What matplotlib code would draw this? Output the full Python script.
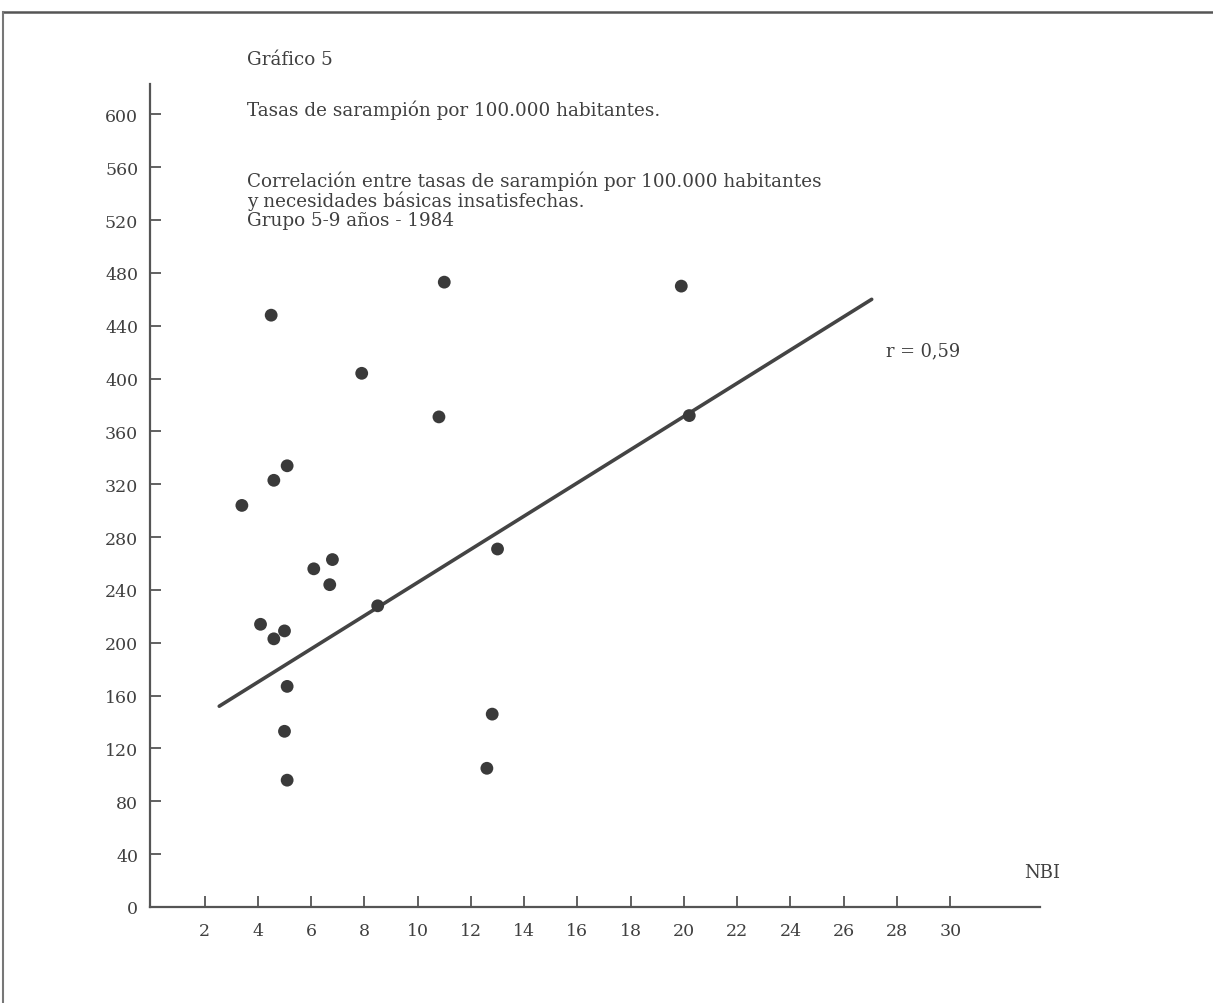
import matplotlib
matplotlib.use("Agg")
import matplotlib.pyplot as plt
from matplotlib.lines import Line2D
import numpy as np

# Data
nbi = [3.4, 4.1, 4.5, 4.6, 4.6, 5.0, 5.1, 5.1, 5.0, 5.1, 6.1, 6.7, 6.8,
       7.9, 8.5, 10.8, 11.0, 12.6, 12.8, 13.0, 19.9, 20.2]
tasas = [304, 214, 448, 323, 203, 209, 334, 167, 133, 96, 256, 244, 263,
         404, 228, 371, 473, 105, 146, 271, 470, 372]
line_x = [2.55, 27.05]
line_y = [152, 460]
x_ticks = list(range(2, 31, 2))
y_ticks = list(range(0, 601, 40))
title_lines = ["Gráfico 5", "Tasas de sarampión por 100.000 habitantes."]
subtitle_lines = ["Correlación entre tasas de sarampión por 100.000 habitantes",
                  "y necesidades básicas insatisfechas.",
                  "Grupo 5-9 años - 1984"]
r_label = "r = 0,59"
x_label = "NBI"

W, H = 1213, 1004
plt.rcParams['font.family'] = ['DejaVu Serif']
fig = plt.figure(figsize=(W / 100, H / 100), dpi=100)
fig.patch.set_facecolor('white')

ink = '#404040'
ax = fig.add_axes([150 / W, 1 - 908 / H, (1040 - 150) / W, (908 - 85) / H])
ax.set_facecolor('white')
ax.scatter(nbi, tasas, s=85, color='#3a3a3a', edgecolors='none', zorder=3)
ax.plot(line_x, line_y, color='#444444', lw=2.6, solid_capstyle='round', zorder=2)

ax.set_xlim(-0.05, 33.37)
ax.set_ylim(0, 623)
ax.set_xticks(x_ticks)
ax.set_yticks(y_ticks)
ax.tick_params(axis='both', direction='in', length=8, width=1.3, color='#555555',
               labelsize=12.5, labelcolor=ink)
ax.tick_params(axis='x', pad=11)
ax.tick_params(axis='y', pad=8.5)
for s in ['top', 'right']:
    ax.spines[s].set_visible(False)
for s in ['left', 'bottom']:
    ax.spines[s].set_color('#555555')
    ax.spines[s].set_linewidth(1.6)

fig.text(1024 / W, 1 - 873 / H, x_label, fontsize=13, color=ink, va='center', ha='left')
fig.text(886 / W, 1 - 351 / H, r_label, fontsize=12.8, color=ink, va='center', ha='left')

fs = 13.2
fig.text(247 / W, 1 - 60 / H, title_lines[0], fontsize=fs, color=ink, va='center', ha='left')
fig.text(247 / W, 1 - 110 / H, title_lines[1], fontsize=fs, color=ink, va='center', ha='left')
for i, t in enumerate(subtitle_lines):
    fig.text(247 / W, 1 - (181 + 20 * i) / H, t, fontsize=fs, color=ink, va='center', ha='left')

# page frame
fig.add_artist(Line2D([4 / W, 1], [1 - 13 / H, 1 - 13 / H], color='#555555', lw=1.8,
                      transform=fig.transFigure))
fig.add_artist(Line2D([3 / W, 3 / W], [1 - 13 / H, 0], color='#777777', lw=1.5,
                      transform=fig.transFigure))

fig.savefig('out.png', dpi=100, facecolor='white')
